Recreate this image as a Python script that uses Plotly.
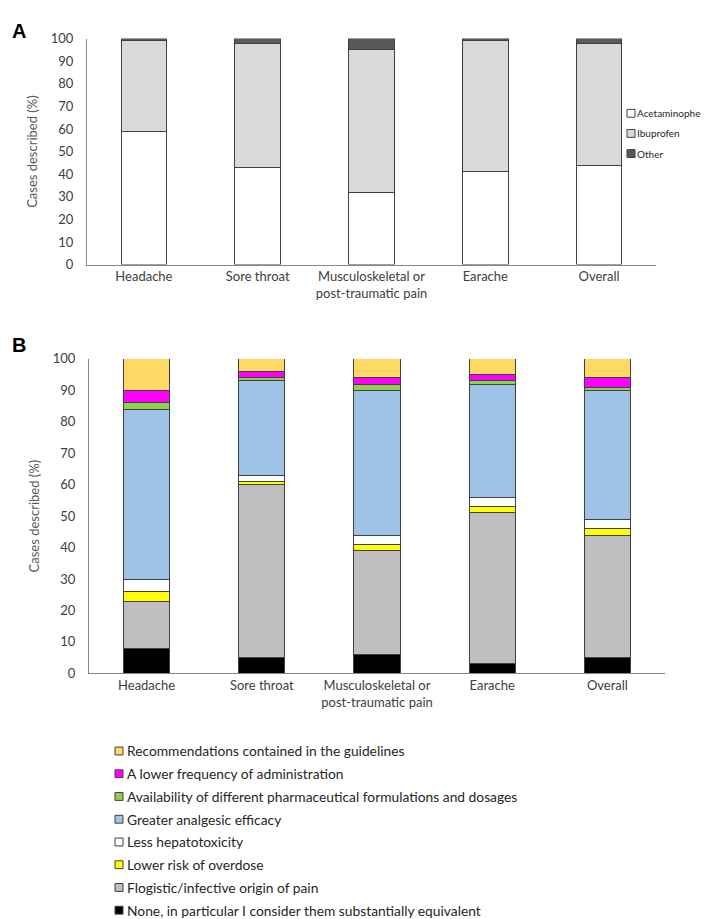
import plotly.graph_objects as go

categories = ["Headache", "Sore throat", "Musculoskeletal or<br>post-traumatic pain", "Earache", "Overall"]

# Panel A: drug described (%)
a_series = ["Acetaminophen", "Ibuprofen", "Other"]
a_acetaminophen = [59, 43, 32, 41, 44]
a_ibuprofen = [40, 55, 63, 58, 54]
a_other = [1, 2, 5, 1, 2]
a_values = [a_acetaminophen, a_ibuprofen, a_other]
a_colors = ["#ffffff", "#d9d9d9", "#595959"]

# Panel B: reasons (%), stacked bottom to top
b_series = [
    "None, in particular I consider them substantially equivalent",
    "Flogistic/infective origin of pain",
    "Lower risk of overdose",
    "Less hepatotoxicity",
    "Greater analgesic efficacy",
    "Availability of different pharmaceutical formulations and dosages",
    "A lower frequency of administration",
    "Recommendations contained in the guidelines",
]
b_none = [8, 5, 6, 3, 5]
b_flogistic = [15, 55, 33, 48, 39]
b_overdose = [3, 1, 2, 2, 2]
b_hepato = [4, 2, 3, 3, 3]
b_efficacy = [54, 30, 46, 36, 41]
b_availability = [2, 1, 2, 1, 1]
b_frequency = [4, 2, 2, 2, 3]
b_guidelines = [10, 4, 6, 5, 6]
b_values = [b_none, b_flogistic, b_overdose, b_hepato, b_efficacy,
            b_availability, b_frequency, b_guidelines]
b_colors = ["#000000", "#bfbfbf", "#ffff00", "#ffffff", "#9dc3e6",
            "#92d050", "#ff00ff", "#ffd966"]

W, H = 709, 919
FONT = "Lato"
TXT = "#404040"
EDGE = "#404040"

def px_x(p):
    return p / W

def px_y(p):
    return 1 - p / H

fig = go.Figure()

for name, vals, col in zip(a_series, a_values, a_colors):
    fig.add_trace(go.Bar(
        x=categories, y=vals, name=name, marker=dict(color=col, line=dict(color=EDGE, width=1)),
        width=0.4, xaxis="x", yaxis="y", showlegend=False,
    ))

for name, vals, col in zip(b_series, b_values, b_colors):
    fig.add_trace(go.Bar(
        x=categories, y=vals, name=name, marker=dict(color=col, line=dict(color=EDGE, width=1)),
        width=0.4, xaxis="x2", yaxis="y2", showlegend=False,
    ))

axis_common = dict(showline=True, linecolor="#868686", linewidth=1, showgrid=False,
                   zeroline=False, ticks="", tickfont=dict(family=FONT, size=13, color=TXT))

shapes = []
annotations = [
    dict(text="<b>A</b>", x=px_x(2), y=px_y(2), xref="paper", yref="paper",
         xanchor="left", yanchor="top", showarrow=False,
         font=dict(family="Liberation Sans", size=20, color="#000000")),
    dict(text="<b>B</b>", x=px_x(2), y=px_y(322), xref="paper", yref="paper",
         xanchor="left", yanchor="top", showarrow=False,
         font=dict(family="Liberation Sans", size=20, color="#000000")),
]

def legend_entry(x_sym, y_center, color, label, size, fsize, gap=1):
    shapes.append(dict(type="rect", xref="paper", yref="paper",
                       x0=px_x(x_sym), x1=px_x(x_sym + size),
                       y0=px_y(y_center + size / 2), y1=px_y(y_center - size / 2),
                       fillcolor=color, line=dict(color=EDGE, width=1)))
    annotations.append(dict(text=label, x=px_x(x_sym + size + gap), y=px_y(y_center),
                            xref="paper", yref="paper", xanchor="left", yanchor="middle",
                            showarrow=False, borderpad=0,
                            font=dict(family=FONT, size=fsize, color="#262626")))

# Legend A (same order as the stack: bottom series first)
a_leg_top, a_leg_step = 99, 20.5
for i, (name, col) in enumerate(zip(a_series, a_colors)):
    legend_entry(619, a_leg_top + i * a_leg_step, col, name, 8, 10, gap=1)

# Legend B (reversed: top series first)
b_leg_top, b_leg_step = 748, 23.15
for i, (name, col) in enumerate(zip(reversed(b_series), reversed(b_colors))):
    legend_entry(107, b_leg_top + i * b_leg_step, col, name, 8, 13.8, gap=3)

fig.update_layout(
    width=W, height=H, barmode="stack", bargap=0.6,
    margin=dict(l=0, r=0, t=0, b=0),
    paper_bgcolor="white", plot_bgcolor="white",
    font=dict(family=FONT, color=TXT),
    showlegend=False,
    xaxis=dict(domain=[px_x(79), px_x(648)], anchor="y", **axis_common),
    yaxis=dict(domain=[px_y(253), px_y(23)], anchor="x", range=[0, 100], dtick=10,
               ticklabelstandoff=10,
               title=dict(text="Cases described (%)", font=dict(family=FONT, size=13, color="#595959"), standoff=10),
               **axis_common),
    xaxis2=dict(domain=[px_x(81), px_x(657)], anchor="y2", **axis_common),
    yaxis2=dict(domain=[px_y(669), px_y(349)], anchor="x2", range=[0, 100], dtick=10,
                ticklabelstandoff=10,
                title=dict(text="Cases described (%)", font=dict(family=FONT, size=13, color="#595959"), standoff=10),
                **axis_common),
    shapes=shapes,
    annotations=annotations,
)

fig.write_html("out.html")
